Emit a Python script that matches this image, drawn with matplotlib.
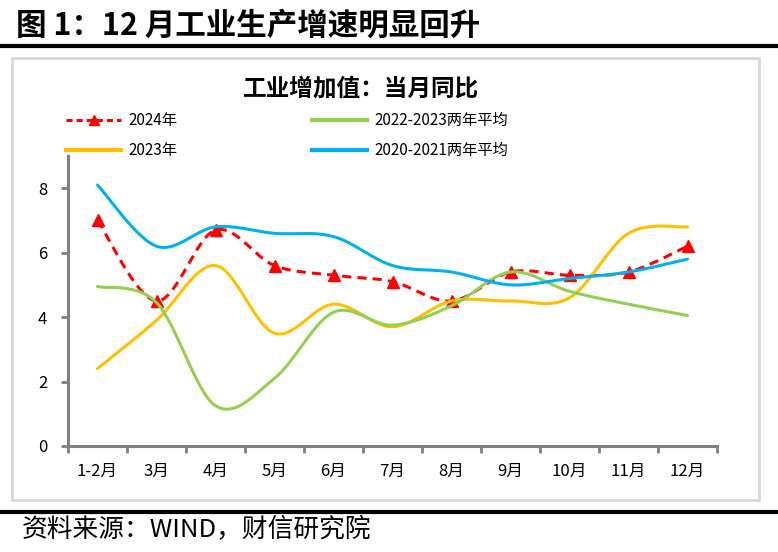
import numpy as np
import matplotlib
matplotlib.use("Agg")
import matplotlib.pyplot as plt
from matplotlib.lines import Line2D
from matplotlib.patches import Rectangle

plt.rcParams['font.family'] = ['Noto Sans CJK SC', 'DejaVu Sans']

months = ["1-2月", "3月", "4月", "5月", "6月", "7月", "8月", "9月", "10月", "11月", "12月"]
y2024 = [7.0, 4.5, 6.7, 5.6, 5.3, 5.1, 4.5, 5.4, 5.3, 5.4, 6.2]
y2023 = [2.4, 3.9, 5.6, 3.5, 4.4, 3.7, 4.5, 4.5, 4.6, 6.6, 6.8]
avg2223 = [4.95, 4.45, 1.25, 2.1, 4.15, 3.75, 4.35, 5.4, 4.8, 4.4, 4.05]
avg2021 = [8.1, 6.2, 6.8, 6.6, 6.5, 5.6, 5.4, 5.0, 5.2, 5.4, 5.8]

RED, YELLOW, GREEN, BLUE = "#FF0000", "#FFC000", "#92D050", "#00B0F0"
GRAY = "#808080"


def smooth(vals, n=30):
    # Excel-style smoothed line (Catmull-Rom via cubic Bezier)
    p = np.column_stack([np.arange(len(vals)), vals]).astype(float)
    ext = np.vstack([p[0], p, p[-1]])
    out = []
    t = np.linspace(0, 1, n)[:, None]
    for i in range(len(p) - 1):
        p0, p1, p2, p3 = ext[i], ext[i + 1], ext[i + 2], ext[i + 3]
        c1 = p1 + (p2 - p0) / 6
        c2 = p2 - (p3 - p1) / 6
        seg = ((1 - t) ** 3) * p1 + 3 * ((1 - t) ** 2) * t * c1 + 3 * (1 - t) * t ** 2 * c2 + t ** 3 * p2
        out.append(seg if i == 0 else seg[1:])
    out = np.vstack(out)
    return out[:, 0], out[:, 1]


fig = plt.figure(figsize=(7.78, 5.52), dpi=100)

# frame around chart
fig.patches.append(Rectangle((12 / 778, 1 - 500 / 552), 747 / 778, 442 / 552,
                             transform=fig.transFigure, fill=False,
                             edgecolor="#D9D9D9", linewidth=2))
fig.add_artist(Line2D([2 / 778, 776 / 778], [1 - 46 / 552] * 2, color="black", linewidth=3))
fig.add_artist(Line2D([2 / 778, 776 / 778], [1 - 512 / 552] * 2, color="black", linewidth=3))

fig.text(16 / 778, 1 - 26 / 552, "图 1：12 月工业生产增速明显回升", fontsize=22,
         fontweight="bold", va="center", ha="left")
fig.text(22 / 778, 1 - 530 / 552, "资料来源：WIND，财信研究院", fontsize=18.5,
         style="italic", va="center", ha="left")

ax = fig.add_axes([68 / 778, 1 - 446 / 552, 649 / 778, 290 / 552])
x = np.arange(len(months))

xs, ys = smooth(y2024)
ax.plot(xs, ys, color=RED, linewidth=2.2, linestyle=(0, (3, 2)))
ax.plot(x, y2024, linestyle="none", marker="^", markersize=9, color=RED)
for vals, c in [(y2023, YELLOW), (avg2223, GREEN), (avg2021, BLUE)]:
    xs, ys = smooth(vals)
    ax.plot(xs, ys, color=c, linewidth=2.2, solid_capstyle="round")

ax.set_xlim(-0.5, len(months) - 0.5)
ax.set_ylim(0, 9)
ax.set_yticks([0, 2, 4, 6, 8])
ax.set_xticks(x)
ax.set_xticklabels(months)
ax.set_xticks(np.arange(-0.5, len(months)), minor=True)
ax.tick_params(axis="x", which="major", length=0, pad=12, labelsize=12)
ax.tick_params(axis="x", which="minor", length=5, width=2, color=GRAY, direction="out")
ax.tick_params(axis="y", length=5, width=2, color=GRAY, pad=10, labelsize=12)
for s in ["top", "right"]:
    ax.spines[s].set_visible(False)
for s in ["left", "bottom"]:
    ax.spines[s].set_color(GRAY)
    ax.spines[s].set_linewidth(2.2)

fig.text(361 / 778, 1 - 88 / 552, "工业增加值：当月同比", fontsize=17, fontweight="bold",
         ha="center", va="center")

h2024 = Line2D([], [], color=RED, linewidth=2.2, linestyle=(0, (2, 1.3)), marker="^", markersize=7)
h2023 = Line2D([], [], color=YELLOW, linewidth=3)
h2223 = Line2D([], [], color=GREEN, linewidth=3)
h2021 = Line2D([], [], color=BLUE, linewidth=3)
leg_kw = dict(loc="upper left", frameon=False, handlelength=3.6,
              handletextpad=0.5, labelspacing=0.85, numpoints=1, borderaxespad=0,
              prop={"family": ["Liberation Sans Narrow", "Noto Sans CJK SC"], "size": 11})
fig.legend([h2024, h2023], ["2024年", "2023年"],
           bbox_to_anchor=(60 / 778, 1 - 106 / 552), **leg_kw)
fig.legend([h2223, h2021], ["2022-2023两年平均", "2020-2021两年平均"],
           bbox_to_anchor=(306 / 778, 1 - 106 / 552), **leg_kw)

fig.savefig("out.png", dpi=100)
